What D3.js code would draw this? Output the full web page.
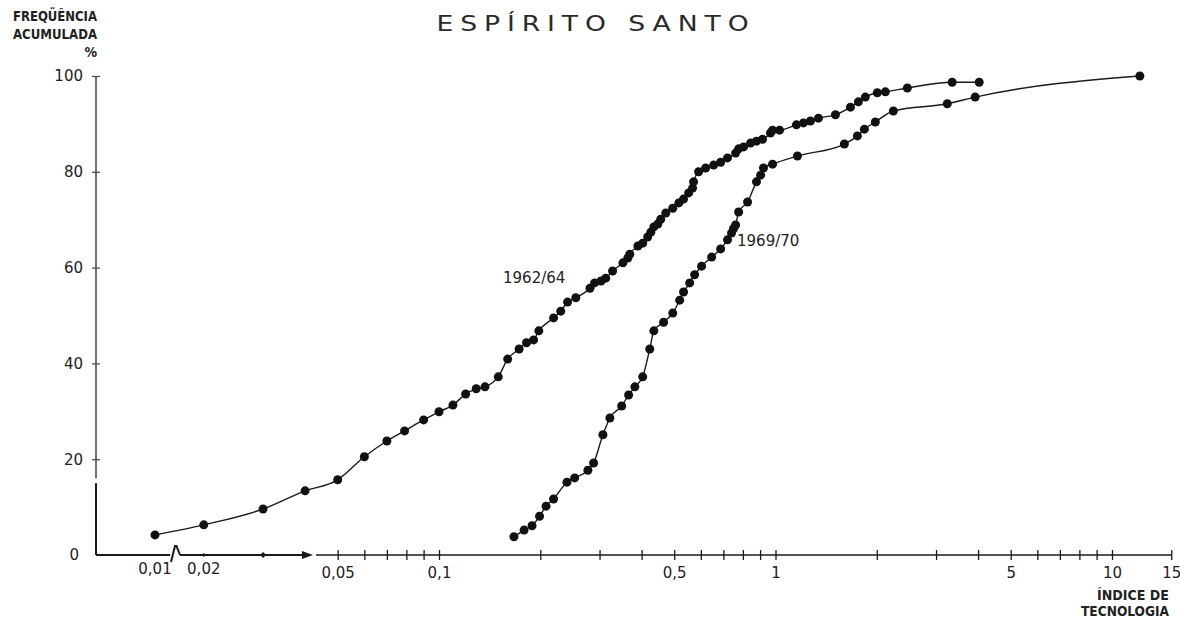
<!DOCTYPE html>
<html lang="pt">
<head>
<meta charset="utf-8">
<title>Espírito Santo — Índice de tecnologia</title>
<script src="https://cdn.jsdelivr.net/npm/d3@7"></script>
<style>
  html, body { margin: 0; padding: 0; background: #fff; }
  svg { display: block; }
  .num { font-family: "DejaVu Sans", sans-serif; font-size: 15px; fill: #222; }
  .ttl { font-family: "DejaVu Sans Condensed", "DejaVu Sans", sans-serif; font-weight: bold; font-size: 14px; fill: #222; }
</style>
</head>
<body>
<svg id="chart" width="1180" height="622"></svg>
<script>
// Cumulative frequency (%) of municipalities by technology index
const seriesNames = ["1962/64", "1969/70"];

const idx6264 = [0.01, 0.02, 0.03, 0.04, 0.05, 0.06, 0.07, 0.079, 0.09, 0.1,
  0.11, 0.12, 0.129, 0.137, 0.15, 0.16, 0.173, 0.182, 0.191, 0.198,
  0.219, 0.23, 0.241, 0.255, 0.281, 0.29, 0.303, 0.313, 0.328, 0.352,
  0.364, 0.369, 0.39, 0.403, 0.417, 0.426, 0.435, 0.447, 0.456, 0.472,
  0.495, 0.516, 0.533, 0.552, 0.567, 0.571, 0.591, 0.62, 0.655, 0.687,
  0.72, 0.761, 0.777, 0.804, 0.843, 0.878, 0.915, 0.966, 0.98, 1.028,
  1.154, 1.211, 1.27, 1.341, 1.507, 1.67, 1.763, 1.849, 2.007, 2.121,
  2.465, 3.35, 4.03];
const freq6264 = [4.2, 6.3, 9.6, 13.4, 15.7, 20.5, 23.8, 25.9, 28.2, 29.9,
  31.3, 33.6, 34.7, 35.1, 37.2, 40.9, 43.0, 44.3, 44.9, 46.8,
  49.5, 50.9, 52.8, 53.7, 55.7, 56.8, 57.2, 57.8, 59.3, 61.0,
  62.0, 62.8, 64.5, 65.1, 66.4, 67.4, 68.5, 69.1, 70.1, 71.4,
  72.4, 73.5, 74.3, 75.6, 76.6, 77.9, 80.0, 80.8, 81.4, 82.0,
  82.9, 83.9, 84.8, 85.2, 86.0, 86.4, 86.8, 88.1, 88.7, 88.7,
  89.8, 90.2, 90.6, 91.2, 91.9, 93.5, 94.6, 95.6, 96.5, 96.7,
  97.5, 98.7, 98.7];

const idx6970 = [0.167, 0.179, 0.189, 0.199, 0.208, 0.219, 0.24, 0.253, 0.277, 0.288,
  0.307, 0.322, 0.349, 0.366, 0.382, 0.403, 0.423, 0.435, 0.465, 0.495,
  0.519, 0.533, 0.556, 0.575, 0.603, 0.646, 0.687, 0.72, 0.74, 0.75,
  0.761, 0.777, 0.826, 0.878, 0.903, 0.921, 0.98, 1.162, 1.602, 1.751,
  1.837, 1.98, 2.24, 3.24, 3.92, 12.1];
const freq6970 = [3.8, 5.2, 6.1, 8.1, 10.2, 11.7, 15.2, 16.1, 17.7, 19.2,
  25.1, 28.6, 31.1, 33.4, 35.1, 37.2, 43.0, 46.8, 48.6, 50.5,
  53.2, 54.9, 56.8, 58.5, 60.3, 62.2, 63.9, 65.8, 67.2, 68.1,
  68.9, 71.6, 73.7, 77.9, 79.3, 80.8, 81.6, 83.3, 85.8, 87.5,
  88.9, 90.4, 92.7, 94.2, 95.6, 100];

// Axis ticks
const xTickValues = [0.05, 0.06, 0.07, 0.08, 0.09, 0.1, 0.2, 0.3, 0.4, 0.5, 0.6, 0.7, 0.8, 0.9,
  1, 2, 3, 4, 5, 6, 7, 8, 9, 10, 15];
const xTickLabels = {0.05: "0,05", 0.1: "0,1", 0.5: "0,5", 1: "1", 5: "5", 10: "10", 15: "15"};
const xBreakTicks = [0.01, 0.02];
const xBreakLabels = ["0,01", "0,02"];
const yTickValues = [0, 20, 40, 60, 80, 100];

const svg = d3.select("#chart");

// Scales: a log scale for the main axis, and a short log segment after the axis break
const yOrigin = 555;
const x0 = 96;
const xMain = d3.scaleLog().domain([0.1, 10]).range([439, 1112]);
const xBreak = d3.scaleLog().domain([0.01, 0.02]).range([155, xMain(0.02)]);
const xPos = v => (v < 0.02 ? xBreak(v) : xMain(v));
const y = d3.scaleLinear().domain([0, 100]).range([yOrigin, 76]);

const ink = "#1a1a1a";

// Title, in wide spaced capitals
svg.append("text")
  .attr("transform", "translate(596,31) scale(1.3,1)")
  .attr("text-anchor", "middle")
  .attr("font-family", "DejaVu Sans, sans-serif")
  .attr("font-size", 20.5)
  .attr("letter-spacing", 5.3)
  .attr("fill", "#2a2a2a")
  .text("ESPÍRITO SANTO");

// Y axis title
const yTitle = [["FREQÜÊNCIA", 21, 84], ["ACUMULADA", 39, 84], ["%", 57, null]];
yTitle.forEach(([t, yy, len]) => {
  const el = svg.append("text").attr("class", "ttl")
    .attr("x", 97).attr("y", yy).attr("text-anchor", "end").text(t);
  if (len) el.attr("textLength", len).attr("lengthAdjust", "spacingAndGlyphs");
});

// X axis title
[["ÍNDICE DE", 600, 72], ["TECNOLOGIA", 616, 88]].forEach(([t, yy, len]) => {
  svg.append("text").attr("class", "ttl")
    .attr("x", 1169).attr("y", yy).attr("text-anchor", "end")
    .attr("font-size", 15)
    .attr("textLength", len).attr("lengthAdjust", "spacingAndGlyphs")
    .text(t);
});

// Y axis: thin upper stretch, heavier base
svg.append("rect")
  .attr("x", x0 - 0.75).attr("y", y(100))
  .attr("width", 1.5).attr("height", y(16) - y(100))
  .attr("fill", "#444");
svg.append("rect")
  .attr("x", x0 - 1).attr("y", y(15))
  .attr("width", 2).attr("height", yOrigin - y(15))
  .attr("fill", ink);

const yAxis = svg.append("g").attr("transform", `translate(${x0},0)`)
  .call(d3.axisLeft(y).tickValues(yTickValues).tickSize(0).tickPadding(13)
    .tickFormat(d => String(d)));
yAxis.select(".domain").remove();
yAxis.selectAll("text").attr("class", "num").attr("font-size", null).attr("font-family", null);
yAxis.selectAll(".tick").filter(d => d === 0).select("text").attr("dx", -4);
yAxis.selectAll(".tick").filter(d => d > 0).append("rect")
  .attr("x", -4).attr("y", -0.6).attr("width", 8).attr("height", 1.2).attr("fill", "#444");

// X axis, left of the gap: origin to the arrow
svg.append("line").attr("x1", x0).attr("x2", 304)
  .attr("y1", yOrigin).attr("y2", yOrigin)
  .attr("stroke", ink).attr("stroke-width", 2);
svg.append("path")
  .attr("d", `M302,${yOrigin - 4}L313,${yOrigin}L302,${yOrigin + 4}Z`)
  .attr("fill", ink);
// axis break mark
svg.append("rect").attr("x", 170).attr("y", yOrigin - 3).attr("width", 10).attr("height", 6).attr("fill", "#fff");
svg.append("path")
  .attr("d", `M171,${yOrigin + 7}L175,${yOrigin - 9}L176.5,${yOrigin - 9}L180,${yOrigin}`)
  .attr("fill", "none").attr("stroke", ink).attr("stroke-width", 2);
// small marks at 0.02 and 0.03
svg.append("line").attr("x1", xPos(0.02)).attr("x2", xPos(0.02))
  .attr("y1", yOrigin - 2).attr("y2", yOrigin + 2).attr("stroke", ink);
svg.append("path")
  .attr("d", `M${xPos(0.03) - 3},${yOrigin}L${xPos(0.03)},${yOrigin - 3}L${xPos(0.03) + 3},${yOrigin}L${xPos(0.03)},${yOrigin + 3}Z`)
  .attr("fill", ink);
xBreakTicks.forEach((v, i) => {
  svg.append("text").attr("class", "num")
    .attr("x", xPos(v)).attr("y", yOrigin + 19).attr("text-anchor", "middle")
    .text(xBreakLabels[i]);
});

// X axis, main log stretch
svg.append("line").attr("x1", 316).attr("x2", xMain(15))
  .attr("y1", yOrigin).attr("y2", yOrigin)
  .attr("stroke", ink).attr("stroke-width", 1.6);
const xAxis = svg.append("g").attr("transform", `translate(0,${yOrigin})`)
  .call(d3.axisBottom(xMain).tickValues(xTickValues).tickSize(0).tickPadding(12)
    .tickFormat(d => xTickLabels[d] || ""));
xAxis.select(".domain").remove();
xAxis.selectAll("text").attr("class", "num").attr("font-size", null).attr("font-family", null);
xAxis.selectAll(".tick").append("line")
  .attr("y1", -5).attr("y2", 5).attr("stroke", ink).attr("stroke-width", 1.3);

// Curves and points
const line = d3.line()
  .x(d => xPos(d[0]))
  .y(d => y(d[1]))
  .curve(d3.curveMonotoneX);

const series = [
  d3.zip(idx6264, freq6264),
  d3.zip(idx6970, freq6970)
];

series.forEach(pts => {
  svg.append("path").datum(pts)
    .attr("d", line)
    .attr("fill", "none")
    .attr("stroke", ink)
    .attr("stroke-width", 1.4);
  svg.append("g").selectAll("circle").data(pts).join("circle")
    .attr("cx", d => xPos(d[0]))
    .attr("cy", d => y(d[1]))
    .attr("r", 4.5)
    .attr("fill", "#111");
});

// Series labels
svg.append("text").attr("class", "num")
  .attr("x", 503).attr("y", 283).attr("font-size", 15)
  .text(seriesNames[0]);
svg.append("text").attr("class", "num")
  .attr("x", 737).attr("y", 246).attr("font-size", 15)
  .text(seriesNames[1]);
</script>
</body>
</html>
